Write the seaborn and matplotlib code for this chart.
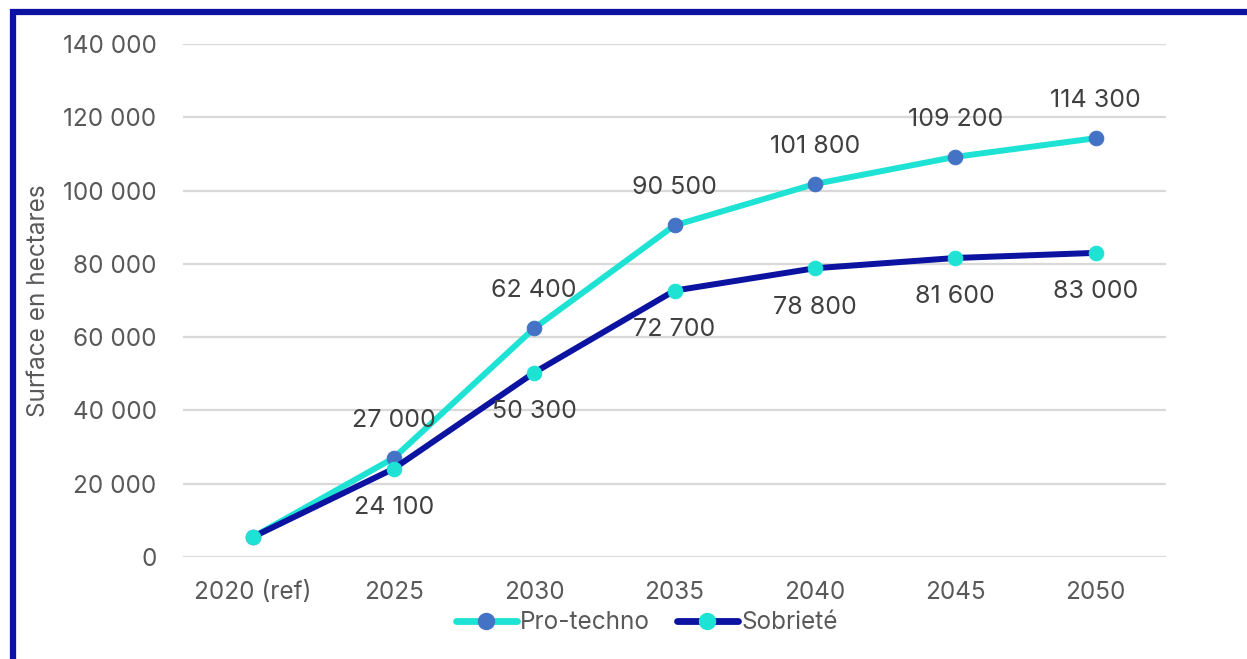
import matplotlib
matplotlib.use("Agg")
import matplotlib.pyplot as plt
import seaborn as sns
import pandas as pd
from matplotlib.patches import Rectangle
from matplotlib.lines import Line2D
from matplotlib.ticker import FuncFormatter

categories = ["2020 (ref)", "2025", "2030", "2035", "2040", "2045", "2050"]
pro_techno = [5500, 27000, 62400, 90500, 101800, 109200, 114300]
sobriete = [5500, 24100, 50300, 72700, 78800, 81600, 83000]
y_ticks = [0, 20000, 40000, 60000, 80000, 100000, 120000, 140000]

CYAN = "#1EE3D4"
NAVY = "#0B13A0"
MBLUE = "#4472C4"
GREY = "#595959"

sns.set_theme(style="white")
plt.rcParams['font.family'] = ['Inter', 'DejaVu Sans']

fig = plt.figure(figsize=(12.47, 6.59), dpi=100)
ax = fig.add_axes([183/1247, 1-557/659, (1166-183)/1247, (557-44)/659])

df_p = pd.DataFrame({"cat": categories, "val": pro_techno})
df_s = pd.DataFrame({"cat": categories, "val": sobriete})

LW = 4.3
MS = 10.5
sns.lineplot(data=df_p, x="cat", y="val", ax=ax, color=CYAN, linewidth=LW,
             marker="o", markersize=MS, markerfacecolor=MBLUE, markeredgecolor=MBLUE,
             sort=False, solid_capstyle="round", legend=False)
sns.lineplot(data=df_s, x="cat", y="val", ax=ax, color=NAVY, linewidth=LW,
             marker="o", markersize=MS, markerfacecolor=CYAN, markeredgecolor=CYAN,
             sort=False, solid_capstyle="round", legend=False)

def fmt(v):
    return f"{int(v):,}".replace(",", " ")

LBL = 18
for i, v in enumerate(pro_techno):
    if i == 0:
        continue
    ax.annotate(fmt(v), (i, v), xytext=(0, 27), textcoords="offset points",
                ha="center", va="center", fontsize=LBL, color="#404040")
for i, v in enumerate(sobriete):
    if i == 0:
        continue
    ax.annotate(fmt(v), (i, v), xytext=(0, -28), textcoords="offset points",
                ha="center", va="center", fontsize=LBL, color="#404040")

ax.set_ylim(0, 140000)
ax.set_xlim(-0.5, len(categories) - 0.5)
ax.set_yticks(y_ticks)
ax.yaxis.set_major_formatter(FuncFormatter(lambda v, p: fmt(v)))
ax.grid(axis="y", color="#D9D9D9", linewidth=1.6)
ax.grid(axis="x", visible=False)
ax.set_axisbelow(True)
for s in ax.spines.values():
    s.set_visible(False)
ax.tick_params(axis="both", length=0, labelsize=17.5, labelcolor=GREY)
ax.tick_params(axis="y", pad=19)
ax.tick_params(axis="x", pad=17)
ax.set_xlabel("")
ax.set_ylabel("Surface en hectares", fontsize=17.5, color=GREY)
ax.yaxis.set_label_coords(-0.135, 0.5)

handles = [
    Line2D([], [], color=CYAN, linewidth=LW + 0.6, marker="o", markersize=MS + 1,
           markerfacecolor=MBLUE, markeredgecolor=MBLUE, solid_capstyle="round"),
    Line2D([], [], color=NAVY, linewidth=LW + 0.6, marker="o", markersize=MS + 1,
           markerfacecolor=CYAN, markeredgecolor=CYAN, solid_capstyle="round"),
]
ax.legend(handles, ["Pro-techno", "Sobrieté"], loc="center",
          bbox_to_anchor=(0.472, -0.128), ncol=2, frameon=False, fontsize=17.5,
          handlelength=2.5, handletextpad=0.15, columnspacing=1.1,
          labelcolor=GREY)

fig.patches.append(Rectangle((13/1247, -0.5), 2, 1 - 11.5/659 + 0.5, fill=False,
                             edgecolor=NAVY, linewidth=4.5,
                             transform=fig.transFigure, figure=fig))

fig.savefig("out.png", dpi=100, facecolor="white")
